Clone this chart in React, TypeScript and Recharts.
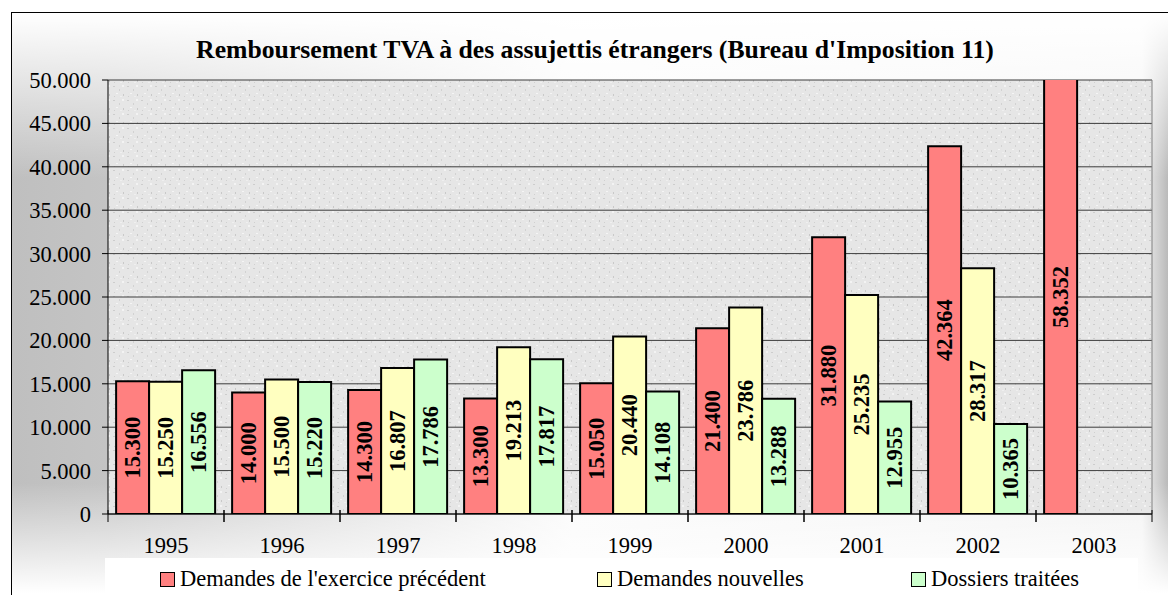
import React from "react";
import { BarChart, Bar, XAxis, YAxis, CartesianGrid, LabelList } from "recharts";

// Chart values
const years = ["1995", "1996", "1997", "1998", "1999", "2000", "2001", "2002", "2003"];
const previousYear = [15300, 14000, 14300, 13300, 15050, 21400, 31880, 42364, 58352];
const newRequests = [15250, 15500, 16807, 19213, 20440, 23786, 25235, 28317, null];
const processed = [16556, 15220, 17786, 17817, 14108, 13288, 12955, 10365, null];
const yTicks = [0, 5000, 10000, 15000, 20000, 25000, 30000, 35000, 40000, 45000, 50000];

const seriesKeys = ["prev", "nouv", "trait"];
const seriesNames = ["Demandes de l'exercice précédent", "Demandes nouvelles", "Dossiers traitées"];
const seriesColors = ["#ff8080", "#ffffc0", "#ccffcc"];

const title = "Remboursement TVA à des assujettis étrangers (Bureau d'Imposition 11)";

const data = years.map((year, i) => ({
  year,
  prev: previousYear[i],
  nouv: newRequests[i],
  trait: processed[i],
}));

const CHART_W = 1168;
const CHART_H = 595;
const MARGIN = { top: 80, right: 16, bottom: 41, left: 0 };
const Y_AXIS_W = 108;
const PLOT_W = CHART_W - MARGIN.left - MARGIN.right - Y_AXIS_W;
const HALF_BAND = PLOT_W / years.length / 2;
const FONT = "'Liberation Serif', 'Times New Roman', serif";
const FONT_SIZE = 22.5;

// 15300 -> "15.300"
const fmt = (v: number) => String(v).replace(/\B(?=(\d{3})+(?!\d))/g, ".");

const renderBarLabel = (props: any) => {
  if (props.value == null) return null;
  const vb = props.viewBox ?? props;
  const { x, y, width, height } = vb;
  // keep the label inside the visible part of bars that go past the axis max
  const top = Math.max(y, MARGIN.top);
  const bottom = y + height;
  const cx = x + width / 2;
  const cy = (top + bottom) / 2;
  return (
    <text
      x={cx}
      y={cy}
      transform={`rotate(-90 ${cx} ${cy})`}
      textAnchor="middle"
      dominantBaseline="central"
      fontFamily={FONT}
      fontSize={FONT_SIZE}
      fontWeight="bold"
      fill="#000"
    >
      {fmt(props.value)}
    </text>
  );
};

const renderYearTick = (props: any) => {
  const { x, y, payload } = props;
  return (
    <g>
      <line x1={x - HALF_BAND} x2={x - HALF_BAND} y1={y - 4} y2={y + 8} stroke="#000" />
      <line x1={x + HALF_BAND} x2={x + HALF_BAND} y1={y - 4} y2={y + 8} stroke="#000" />
      <text x={x} y={y + 39} textAnchor="middle" fontFamily={FONT} fontSize={FONT_SIZE} fill="#000">
        {payload.value}
      </text>
    </g>
  );
};

const legendLefts = [55, 492, 806];

export default function App() {
  return (
    <div
      style={{
        position: "absolute",
        left: 0,
        top: 0,
        width: CHART_W,
        height: CHART_H,
        overflow: "hidden",
        background: "#fff",
      }}
    >
      <div
        style={{
          position: "absolute",
          left: 11,
          top: 12,
          width: 1200,
          height: 640,
          borderTop: "1px solid #000",
          borderLeft: "1px solid #000",
          background:
            "linear-gradient(to bottom, #fff 0px, rgba(255,255,255,0) 165px, rgba(255,255,255,0) 470px, #fff 580px), " +
            "linear-gradient(to right, #bfbfbf 0px, #c4c4c4 95px, #fafafa 560px, #f2f2f2 1130px, #b8b8b8 1157px)",
        }}
      />
      <div
        style={{
          position: "absolute",
          left: 11,
          top: 35,
          width: CHART_W,
          textAlign: "center",
          fontFamily: FONT,
          fontSize: 25.7,
          fontWeight: "bold",
          lineHeight: "29px",
          whiteSpace: "nowrap",
        }}
      >
        {title}
      </div>
      <div
        style={{
          position: "absolute",
          left: 105,
          top: 558,
          width: 1033,
          height: 40,
          background: "#fff",
          fontFamily: FONT,
          fontSize: FONT_SIZE,
        }}
      >
        {seriesNames.map((name, i) => (
          <div key={name} style={{ position: "absolute", left: legendLefts[i], top: 0, whiteSpace: "nowrap" }}>
            <span
              style={{
                position: "absolute",
                left: 0,
                top: 14,
                width: 13,
                height: 13,
                background: seriesColors[i],
                border: "1px solid #000",
              }}
            />
            <span style={{ position: "absolute", left: 20, top: 9, lineHeight: "24px" }}>{name}</span>
          </div>
        ))}
      </div>
      <div style={{ position: "absolute", left: 0, top: 0 }}>
        <BarChart
          width={CHART_W}
          height={CHART_H}
          data={data}
          margin={MARGIN}
          barCategoryGap="7%"
          barGap={0}
        >
          <defs>
            <pattern id="granite" width="14" height="14" patternUnits="userSpaceOnUse">
              <rect width="14" height="14" fill="#e6e6e6" />
              <rect x="1" y="2" width="2" height="1" fill="#cdcdcd" />
              <rect x="7" y="5" width="1" height="2" fill="#d2d2d2" />
              <rect x="10" y="1" width="2" height="2" fill="#f3f3f3" />
              <rect x="4" y="9" width="2" height="1" fill="#f5f5f5" />
              <rect x="11" y="10" width="1" height="2" fill="#c9c9c9" />
              <rect x="2" y="12" width="1" height="1" fill="#d0d0d0" />
              <rect x="8" y="12" width="2" height="1" fill="#efefef" />
            </pattern>
          </defs>
          <CartesianGrid vertical={false} stroke="#3c3c3c" fill="url(#granite)" fillOpacity={1} />
          <CartesianGrid
            horizontal={false}
            stroke="#808080"
            verticalCoordinatesGenerator={({ offset }: any) => [offset.left + offset.width]}
          />
          <XAxis
            dataKey="year"
            interval={0}
            tickLine={false}
            tickSize={0}
            tickMargin={0}
            height={40}
            axisLine={{ stroke: "#000" }}
            tick={renderYearTick}
          />
          <YAxis
            width={Y_AXIS_W}
            domain={[0, 50000]}
            ticks={yTicks}
            allowDataOverflow
            interval={0}
            tickSize={6}
            tickMargin={11}
            tickFormatter={fmt}
            axisLine={{ stroke: "#000" }}
            tickLine={{ stroke: "#000" }}
            tick={{ fontFamily: FONT, fontSize: FONT_SIZE, fill: "#000" }}
          />
          {seriesKeys.map((key, i) => (
            <Bar
              key={key}
              dataKey={key}
              name={seriesNames[i]}
              fill={seriesColors[i]}
              stroke="#000"
              strokeWidth={2}
              isAnimationActive={false}
            >
              <LabelList dataKey={key} content={renderBarLabel} />
            </Bar>
          ))}
        </BarChart>
      </div>
    </div>
  );
}
